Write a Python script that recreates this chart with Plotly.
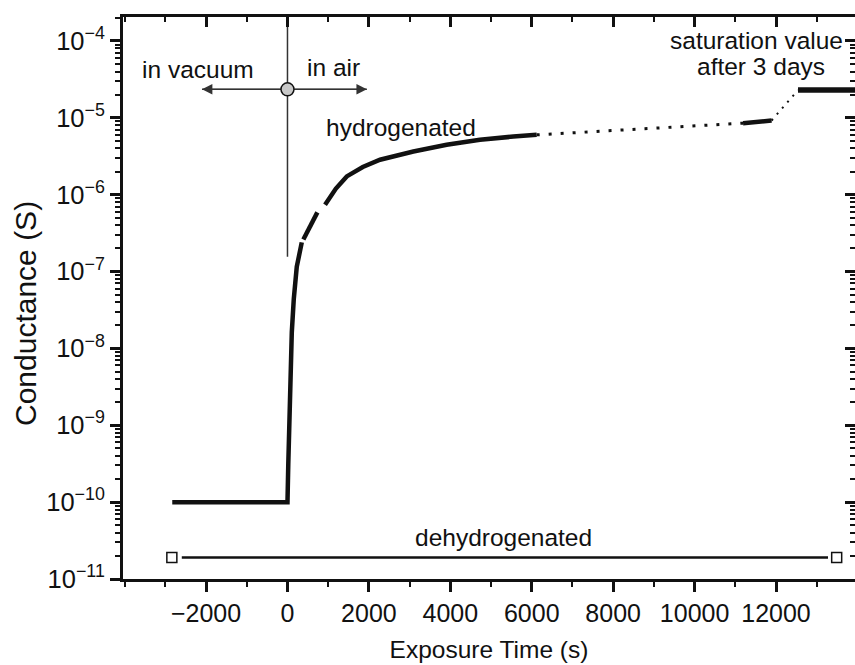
import plotly.graph_objects as go
import math

# ---------------- data ----------------
# hydrogenated sample (None = gap in the recorded trace)
hyd_x = [-2830, 0, 20, 40, 64, 106, 155, 228, 351, None,
         390, 560, 734, None,
         923, 1190, 1456, 1850, 2274, 3092, 3910, 4727, 5546, 6121]
hyd_y = [1e-10, 1e-10, 3.16e-10, 1e-9, 2.19e-9, 1.62e-8, 4.4e-8, 1.15e-7, 2.4e-7, None,
         2.61e-7, 3.98e-7, 5.89e-7, None,
         7.41e-7, 1.2e-6, 1.73e-6, 2.29e-6, 2.85e-6, 3.65e-6, 4.46e-6, 5.18e-6, 5.71e-6, 6.01e-6]
# sparse (dotted) part
dot1_x = [6121, 11190]
dot1_y = [6.01e-6, 8.53e-6]
hyd2_x = [11190, 11892]
hyd2_y = [8.53e-6, 9.23e-6]
dot2_x = [11892, 12540]
dot2_y = [9.23e-6, 2.3e-5]
sat_x = [12540, 14500]
sat_y = [2.3e-5, 2.3e-5]

# dehydrogenated sample
deh_line_x = [-2596, 13277]
deh_line_y = [1.91e-11, 1.91e-11]
deh_mark_x = [-2840, 13490]
deh_mark_y = [1.91e-11, 1.91e-11]

# vacuum / air marker
cross_x = [0]
cross_y = [2.35e-5]
vline_x = [0, 0]
vline_y = [1.56e-7, 1e-3]
arrow_left = -2100
arrow_right = 1950

x_ticks = [-2000, 0, 2000, 4000, 6000, 8000, 10000, 12000]
x_ticktext = ["\u22122000", "0", "2000", "4000", "6000", "8000", "10000", "12000"]
y_exps = [-11, -10, -9, -8, -7, -6, -5, -4]
y_ticks = [10.0 ** e for e in y_exps]
y_ticktext = ["10<sup>\u2212%d</sup>" % (-e) for e in y_exps]
y_minor = [k * 10.0 ** e for e in range(-11, -3) for k in range(2, 10)]

X_RANGE = [-4040, 13940]
Y_RANGE = [-11, -3.688]

FONT = "Liberation Sans, Arial, Helvetica, sans-serif"
INK = "#111111"

fig = go.Figure()

line_style = dict(color=INK, width=4.5)
fig.add_trace(go.Scatter(x=hyd_x, y=hyd_y, mode="lines", line=line_style,
                         connectgaps=False, showlegend=False, hoverinfo="skip"))
fig.add_trace(go.Scatter(x=dot1_x, y=dot1_y, mode="lines",
                         line=dict(color=INK, width=3, dash="3px,9px"),
                         showlegend=False, hoverinfo="skip"))
fig.add_trace(go.Scatter(x=hyd2_x, y=hyd2_y, mode="lines", line=line_style,
                         showlegend=False, hoverinfo="skip"))
fig.add_trace(go.Scatter(x=dot2_x, y=dot2_y, mode="lines",
                         line=dict(color=INK, width=2, dash="2px,6px"),
                         showlegend=False, hoverinfo="skip"))
fig.add_trace(go.Scatter(x=sat_x, y=sat_y, mode="lines", line=dict(color=INK, width=5.5),
                         showlegend=False, hoverinfo="skip"))

fig.add_trace(go.Scatter(x=deh_line_x, y=deh_line_y, mode="lines",
                         line=dict(color=INK, width=2.5),
                         showlegend=False, hoverinfo="skip"))
fig.add_trace(go.Scatter(x=deh_mark_x, y=deh_mark_y, mode="markers",
                         marker=dict(symbol="square-open", size=10, color=INK,
                                     line=dict(width=1.5, color=INK)),
                         showlegend=False, hoverinfo="skip"))

# vacuum/air cross
fig.add_trace(go.Scatter(x=vline_x, y=vline_y, mode="lines",
                         line=dict(color="#333333", width=1.5),
                         showlegend=False, hoverinfo="skip"))
fig.add_trace(go.Scatter(x=[arrow_left, arrow_right], y=cross_y * 2, mode="lines",
                         line=dict(color="#333333", width=1.5),
                         showlegend=False, hoverinfo="skip"))
fig.add_trace(go.Scatter(x=cross_x, y=cross_y, mode="markers",
                         marker=dict(size=13, color="#c8c8c8", line=dict(color=INK, width=1.5)),
                         showlegend=False, hoverinfo="skip", cliponaxis=False))

# dummy trace to bind the mirror axes
fig.add_trace(go.Scatter(x=deh_mark_x, y=deh_mark_y, xaxis="x2", yaxis="y2", mode="markers",
                         marker=dict(size=1, opacity=0), showlegend=False, hoverinfo="skip"))

ly = math.log10(cross_y[0])
for tip in (arrow_left, arrow_right):
    fig.add_annotation(x=tip, y=ly, ax=0, ay=ly, xref="x", yref="y", axref="x", ayref="y",
                       text="", showarrow=True, arrowhead=2, arrowsize=1.6, arrowwidth=1.3,
                       arrowcolor="#333333", standoff=0, startstandoff=6)

def label(text, x, y):
    fig.add_annotation(x=x, y=y, xref="x", yref="y", text=text, showarrow=False,
                       font=dict(family=FONT, size=24.5, color=INK),
                       xanchor="center", yanchor="middle")

label("in vacuum", -2196, -4.37)
label("in air", 1120, -4.35)
label("hydrogenated", 2790, -5.13)
label("saturation value", 11530, -4.0)
label("after 3 days", 11632, -4.33)
label("dehydrogenated", 5316, -10.46)

# y-axis title (placed as rotated text to match the reference position)
fig.add_annotation(x=-98 / 732, y=(579 - 313) / 562, xref="paper", yref="paper",
                   text="Conductance (S)", textangle=-90, showarrow=False,
                   font=dict(family=FONT, size=30, color=INK),
                   xanchor="center", yanchor="middle")

axis_common = dict(linecolor=INK, tickcolor=INK, showgrid=False, zeroline=False,
                   automargin=False)

fig.update_layout(
    width=855, height=665,
    margin=dict(l=123, r=0, t=17, b=86),
    paper_bgcolor="white", plot_bgcolor="white",
    font=dict(family=FONT, color=INK),
    xaxis=dict(range=X_RANGE, tickmode="array", tickvals=x_ticks, ticktext=x_ticktext,
               ticks="outside", ticklen=10, tickwidth=3, showline=True, linewidth=3,
               tickfont=dict(size=25, family=FONT, color=INK),
               minor=dict(tick0=0, dtick=1000, ticks="outside", ticklen=5, tickwidth=2, tickcolor=INK),
               title=dict(text="Exposure Time (s)", font=dict(size=24.5, family=FONT, color=INK)),
               **axis_common),
    xaxis2=dict(range=X_RANGE, overlaying="x", side="top", anchor="y", tickmode="array",
                tickvals=x_ticks, ticks="inside", ticklen=10, tickwidth=3, showticklabels=False,
                showline=True, linewidth=3,
                minor=dict(tick0=0, dtick=1000, ticks="inside", ticklen=5, tickwidth=2, tickcolor=INK),
                **axis_common),
    yaxis=dict(type="log", range=Y_RANGE, tickmode="array", tickvals=y_ticks, ticktext=y_ticktext,
               ticks="outside", ticklen=10, tickwidth=3, showline=True, linewidth=3,
               tickfont=dict(size=25.5, family=FONT, color=INK),
               minor=dict(tickmode="array", tickvals=y_minor, ticks="outside", ticklen=5,
                          tickwidth=2, tickcolor=INK),
               **axis_common),
    yaxis2=dict(type="log", range=Y_RANGE, overlaying="y", side="right", anchor="x",
                tickmode="array", tickvals=y_ticks, ticks="inside", ticklen=10, tickwidth=3,
                showticklabels=False, showline=False,
                minor=dict(tickmode="array", tickvals=y_minor, ticks="inside", ticklen=5,
                           tickwidth=2, tickcolor=INK),
                **axis_common),
)

fig.write_html("out.html", config={"displayModeBar": False},
               post_script="document.body.style.margin='0';")
